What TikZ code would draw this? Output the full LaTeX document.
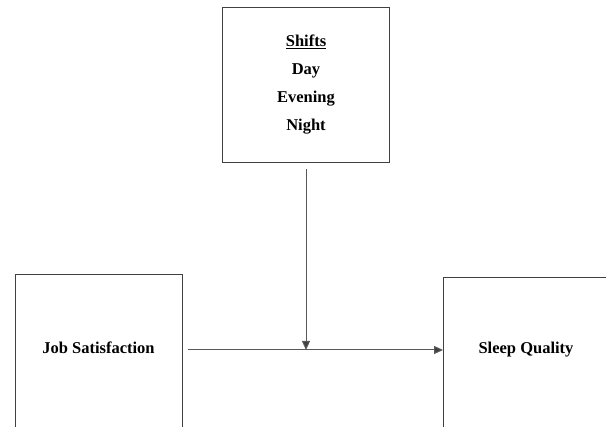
\documentclass[tikz,border=0pt]{standalone}
\usepackage{fontspec}
\setmainfont{Liberation Serif}
\usetikzlibrary{arrows.meta, positioning}

\begin{document}
\begin{tikzpicture}[
  x=1pt, y=-1pt,
  box/.style={rectangle, draw=black!75, line width=1.3pt, align=center, font=\fontsize{16.5}{28}\selectfont\bfseries},
  lbl/.style={align=center, font=\fontsize{16.5}{20}\selectfont\bfseries},
  arr/.style={draw=black!65, line width=1pt, -{Triangle[length=9pt, width=8pt, fill=black!75]}}
]
\useasboundingbox (0,0) rectangle (606,427);
\clip (0,0) rectangle (606,427);
\node[box, minimum width=167pt, minimum height=155pt] (shifts) at (306,85) {\underline{Shifts}\\Day\\Evening\\Night};
\node[box, anchor=north west, minimum width=167pt, minimum height=200pt] (jsbox) at (15,274) {};
\node[lbl] (js) at (98.5,348) {Job Satisfaction};
\node[box, anchor=north west, minimum width=200pt, minimum height=200pt] (sqbox) at (443,277) {};
\node[lbl] (sq) at (526,350) {Sleep Quality};
\coordinate (hstart) at (188,350);
\draw[arr] (hstart) -- (sqbox.west |- hstart);
\draw[arr] ([yshift=-6pt]shifts.south) -- (shifts.south |- hstart);
\end{tikzpicture}
\end{document}
